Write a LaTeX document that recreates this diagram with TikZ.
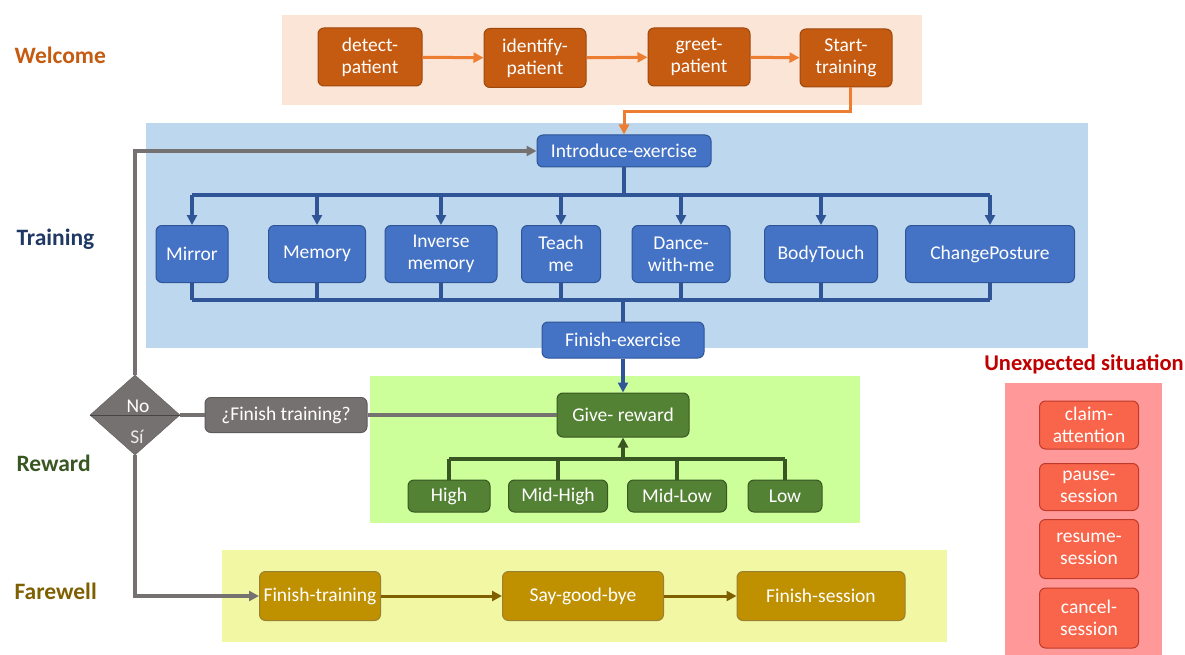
\documentclass[tikz,border=0pt]{standalone}
\usepackage{fontspec}
\setmainfont{Carlito}
\usetikzlibrary{shapes.geometric,arrows.meta}
\definecolor{welbg}{HTML}{FBE5D6}
\definecolor{welbox}{HTML}{C55A11}
\definecolor{welarr}{HTML}{ED7D31}
\definecolor{trbg}{HTML}{BDD7EE}
\definecolor{trbox}{HTML}{4472C4}
\definecolor{trline}{HTML}{2F5597}
\definecolor{trlabel}{HTML}{1F3864}
\definecolor{rwbg}{HTML}{CCFF99}
\definecolor{rwbox}{HTML}{548235}
\definecolor{rwline}{HTML}{385723}
\definecolor{fwbg}{HTML}{F2F7A3}
\definecolor{fwbox}{HTML}{BF9000}
\definecolor{fwline}{HTML}{7F6000}
\definecolor{unbg}{HTML}{FF9999}
\definecolor{unbox}{HTML}{F8654A}
\definecolor{unline}{HTML}{C0392B}
\definecolor{unlabel}{HTML}{C00000}
\definecolor{grbox}{HTML}{767171}
\tikzset{
  box/.style={rounded corners=6pt, text=white, align=center, inner sep=0pt,
    font=\fontsize{19.5}{22}\selectfont, line width=1pt},
  welnode/.style={box, fill=welbox, draw=welbox!80!black},
  trnode/.style={box, fill=trbox, draw=trline},
  rwnode/.style={box, fill=rwbox, draw=rwline},
  fwnode/.style={box, fill=fwbox, draw=fwline!80},
  unnode/.style={box, fill=unbox, draw=unline},
  grnode/.style={box, fill=grbox, draw=grbox!80!black},
  phase/.style={font=\bfseries\fontsize{23.5}{26}\selectfont, anchor=west},
  arr/.style={-{Triangle[length=10pt,width=10pt]}, line width=3.5pt},
  trunk/.style={line width=4pt},
}
\begin{document}
\begin{tikzpicture}[x=1pt,y=-1pt]
\useasboundingbox (0,0) rectangle (1185,655);
% phase backgrounds
\fill[welbg] (282,15) rectangle (922,105);
\fill[trbg] (146,123) rectangle (1088,348);
\fill[rwbg] (370,376) rectangle (860,523);
\fill[fwbg] (222,550) rectangle (947,642);
\fill[unbg] (1005,383) rectangle (1162,655);

% phase titles
\node[phase, text=welbox] (tWel) at (11,55) {Welcome};
\node[phase, text=trlabel] (tTr) at (13,239) {Training};
\node[phase, text=rwline] (tRw) at (13,463) {Reward};
\node[phase, text=fwline] (tFw) at (11,591) {Farewell};
\node[font=\bfseries\fontsize{22.5}{24}\selectfont, text=unlabel] (tUn) at (1084,364) {Unexpected situation};

% welcome
\node[welnode, minimum width=104, minimum height=58] (detect) at (370,57) {detect-\\patient};
\node[welnode, minimum width=102, minimum height=59] (identify) at (535,58) {identify-\\patient};
\node[welnode, minimum width=102, minimum height=58] (greet) at (699,57) {greet-\\patient};
\node[welnode, minimum width=92, minimum height=58] (start) at (846,58) {Start-\\training};
\draw[arr, welarr, line width=3pt] (detect) -- (identify);
\draw[arr, welarr, line width=3pt] (identify) -- (greet);
\draw[arr, welarr, line width=3pt] (greet) -- (start);

% training
\node[trnode, minimum width=174, minimum height=32] (intro) at (624,151) {Introduce-exercise};
\draw[arr, welarr, line width=3pt] (start.south) ++(4,0) coordinate (sS) -- (sS |- 0,112) -| (intro.north);
\foreach \n/\x/\w/\t in {mirror/192/72/Mirror, memory/317/97/Memory, inverse/441/112/{Inverse\\memory},
    teach/561/79/{Teach\\me}, dance/681/98/{Dance-\\with-me}, body/821/113/BodyTouch, change/990/169/ChangePosture}
  \node[trnode, minimum width=\w, minimum height=57] (\n) at (\x,254) {\t};
\coordinate (split) at (624,195);
\draw[trline, trunk] (intro.south) -- (split);
\draw[trline, trunk] (mirror |- split) -- (change |- split);
\foreach \n in {mirror,memory,inverse,teach,dance,body,change}
  \draw[arr, trline] (\n |- split) -- (\n.north);
\node[trnode, minimum width=162, minimum height=36] (finex) at (623,340) {Finish-exercise};
\coordinate (merge) at (623,300);
\draw[trline, trunk] (mirror |- merge) -- (change |- merge);
\foreach \n in {mirror,memory,inverse,teach,dance,body,change}
  \draw[trline, trunk] (\n.south) -- (\n |- merge);
\draw[trline, trunk] (merge) -- (finex.north);

% reward
\node[rwnode, minimum width=132, minimum height=44] (give) at (623,415) {Give- reward};
\draw[arr, trline] (finex.south) -- (give.north);
\foreach \n/\x/\w/\t in {high/449/82/High, midhigh/558/99/Mid-High, midlow/677/99/Mid-Low, low/785/74/Low}
  \node[rwnode, minimum width=\w, minimum height=32] (\n) at (\x,496) {\t};
\coordinate (gather) at (623,459);
\draw[rwline, trunk] (high |- gather) -- (low |- gather);
\foreach \n in {high,midhigh,midlow,low}
  \draw[rwline, trunk] (\n.north) -- (\n |- gather);
\draw[arr, rwline] (gather) -- (give.south);

% decision
\node[grnode, minimum width=162, minimum height=35] (ask) at (286,415) {¿Finish training?};
\node[diamond, fill=grbox, draw=grbox!80!black, minimum width=90, minimum height=80, inner sep=0pt, aspect=1.1] (dec) at (135,415) {};
\draw[grbox!60!black, line width=1pt] (dec.west) -- (dec.east);
\node[text=white, font=\fontsize{19.5}{22}\selectfont] (decno) at (138,406) {No};
\node[text=white!85!grbox, font=\fontsize{19.5}{22}\selectfont] (decyes) at (137,437) {Sí};
\draw[grbox, trunk] (give.west) -- (ask.east);
\draw[grbox, trunk] (ask.west) -- (dec.east);
\draw[arr, grbox] (dec.north) -- (dec.north |- intro.west) -- (intro.west);

% farewell
\node[fwnode, minimum width=121, minimum height=49] (fintr) at (320,596) {Finish-training};
\node[fwnode, minimum width=161, minimum height=49] (bye) at (583,596) {Say-good-bye};
\node[fwnode, minimum width=168, minimum height=49] (finsess) at (821,596) {Finish-session};
\draw[arr, grbox] (dec.south) -- (dec.south |- fintr.west) -- (fintr.west);
\draw[arr, fwline, line width=3pt] (fintr) -- (bye);
\draw[arr, fwline, line width=3pt] (bye) -- (finsess);

% unexpected situations
\node[unnode, minimum width=99, minimum height=48] (claim) at (1089,425) {claim-\\attention};
\node[unnode, minimum width=99, minimum height=47] (pause) at (1089,487) {pause-\\session};
\node[unnode, minimum width=99, minimum height=59] (resume) at (1089,549) {resume-\\session};
\node[unnode, minimum width=99, minimum height=60] (cancel) at (1089,618) {cancel-\\session};
\end{tikzpicture}
\end{document}
